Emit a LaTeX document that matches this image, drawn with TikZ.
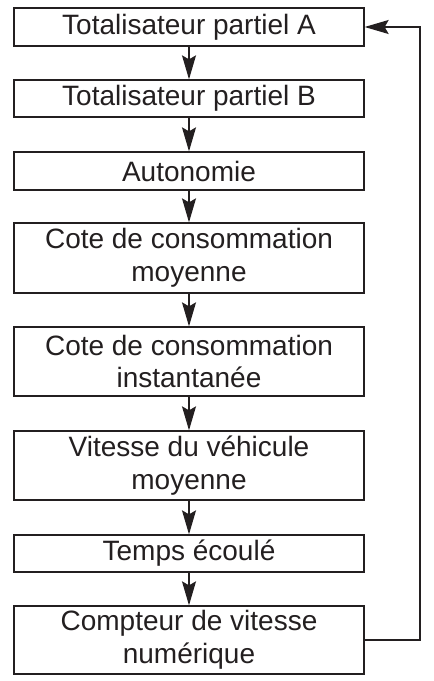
\documentclass[tikz,border=0pt]{standalone}
\usepackage{fontspec}
\setmainfont{Liberation Sans}
\usetikzlibrary{arrows.meta}
\definecolor{ink}{HTML}{231F20}
\begin{document}
\begin{tikzpicture}[x=1pt,y=1pt,
  box/.style={draw=ink, line width=1.3pt, minimum width=350pt, inner sep=0pt, align=center,
    text=ink, font=\fontsize{28}{32.5}\selectfont},
  arr/.style={draw=ink, line width=1.3pt, -{Stealth[length=24pt,width=14pt,inset=4pt]}}]
\useasboundingbox (0,0) rectangle (434,-681);
\node[box, minimum height=38pt] (b1) at (189,-27) {Totalisateur partiel A};
\node[box, minimum height=37pt] (b2) at (189,-98.5) {Totalisateur partiel B};
\node[box, minimum height=38pt] (b3) at (189,-171) {Autonomie};
\node[box, minimum height=70pt] (b4) at (189,-258) {Cote de consommation\\moyenne};
\node[box, minimum height=69pt] (b5) at (189,-361.5) {Cote de consommation\\instantanée};
\node[box, minimum height=69pt] (b6) at (189,-465.5) {Vitesse du véhicule\\moyenne};
\node[box, minimum height=37pt] (b7) at (189,-553.5) {Temps écoulé};
\node[box, minimum height=68pt] (b8) at (189,-640) {Compteur de vitesse\\numérique};
\draw[arr] (b1) -- (b2);
\draw[arr] (b2) -- (b3);
\draw[arr] (b3) -- (b4);
\draw[arr] (b4) -- (b5);
\draw[arr] (b5) -- (b6);
\draw[arr] (b6) -- (b7);
\draw[arr] (b7) -- (b8);
\coordinate (c) at (420,-640);
\draw[arr] (b8.east) -- (c) |- (b1.east);
\end{tikzpicture}
\end{document}
